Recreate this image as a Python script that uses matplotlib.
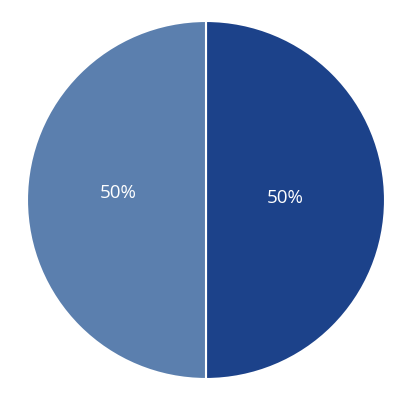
import matplotlib
matplotlib.use("Agg")
import matplotlib.pyplot as plt

labels = ["B", "A"]
values = [50, 50]
colors = ["#1c428a", "#5b7fae"]

fig = plt.figure(figsize=(4.1, 4.0), dpi=100)
ax = fig.add_axes([27 / 410, 21 / 400, 358 / 410, 358 / 400])

wedges, texts, autotexts = ax.pie(
    values, colors=colors, startangle=90, counterclock=False,
    autopct="%d%%", pctdistance=0.46,
    wedgeprops=dict(edgecolor="white", linewidth=1.5),
    textprops=dict(color="white", fontsize=13.5, family=["Open Sans", "DejaVu Sans"]),
)
# left label sits a little higher and further out in the reference
x, y = autotexts[1].get_position()
autotexts[1].set_position((x - 0.03, y + 0.04))
x, y = autotexts[0].get_position()
autotexts[0].set_position((x - 0.02, y + 0.01))

ax.set_aspect("equal")
ax.set_xlim(-1, 1)
ax.set_ylim(-1, 1)
ax.axis("off")

fig.savefig("out.png", dpi=100)
